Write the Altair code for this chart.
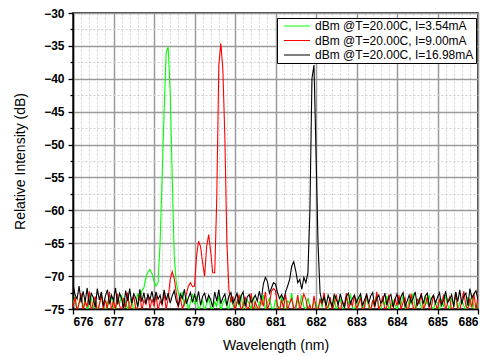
import altair as alt
import pandas as pd

# Sampling grid of the spectra (nm), 0.05 nm step
wavelength = [round(676 + 0.05 * i, 2) for i in range(201)]

series_names = [
    "dBm @T=20.00C, I=3.54mA",
    "dBm @T=20.00C, I=9.00mA",
    "dBm @T=20.00C, I=16.98mA",
]
series_colors = ["#00ff00", "#ff0000", "#000000"]

green_db = [
    -74.2, -73.1, -75.3, -74.0, -72.9, -74.8, -73.6, -75.4, -74.1, -73.3, -74.9, -73.8, -75.2, -74.4, -72.8, -74.6, -75.5, -73.9, -74.3, -73.2,
    -74.7, -75.3, -73.5, -74.2, -72.9, -74.9, -73.7, -75.1, -74.0, -73.4, -75.4, -74.5, -72.6, -73.8, -72.2, -71.8, -70.2, -69.4, -69.0, -69.6,
    -70.8, -71.5, -71.0, -65.0, -55.0, -45.0, -36.0, -35.2, -42.0, -55.0, -67.0, -71.0, -72.5, -73.8, -72.4, -74.6, -73.1, -75.2, -74.0, -72.7,
    -74.3, -73.0, -75.1, -74.5, -73.6, -75.4, -74.2, -73.3, -74.8, -75.2, -73.9, -74.6, -72.9, -75.3, -74.1, -73.5, -74.7, -75.0, -73.2, -74.4,
    -75.1, -73.8, -74.5, -72.8, -74.9, -75.3, -73.6, -74.2, -75.0, -73.1, -74.7, -75.4, -73.9, -74.3, -72.9, -75.2, -74.0, -73.4, -74.8, -75.1,
    -73.7, -74.4, -75.2, -73.0, -74.6, -75.3, -73.8, -74.1, -72.6, -74.9, -75.2, -73.5, -74.3, -72.9, -74.7, -75.0, -73.3, -74.5, -75.4, -73.9,
    -74.2, -75.1, -73.4, -74.8, -72.8, -74.3, -75.2, -73.7, -74.6, -72.9, -75.3, -74.0, -73.5, -74.9, -75.2, -73.2, -74.4, -72.7, -74.8, -75.1,
    -73.6, -74.5, -72.9, -75.0, -74.2, -73.3, -74.7, -75.3, -73.8, -74.1, -72.8, -74.9, -75.2, -73.5, -74.4, -73.0, -75.1, -74.6, -73.7, -74.3,
    -75.2, -73.9, -74.4, -72.8, -74.7, -75.3, -73.6, -74.2, -72.6, -75.0, -74.5, -73.4, -74.8, -75.2, -73.1, -74.3, -72.9, -74.6, -75.1, -73.8,
    -74.1, -75.3, -73.5, -74.7, -72.9, -74.4, -75.0, -73.3, -74.8, -72.7, -75.2, -74.0, -73.6, -74.5, -75.3, -73.2, -74.6, -72.8, -74.9, -75.1,
    -74.0,
]

red_db = [
    -74.8, -73.2, -75.4, -74.1, -72.6, -75.2, -73.9, -74.6, -72.3, -75.3, -74.0, -73.1, -75.5, -74.4, -72.8, -75.1, -73.6, -74.9, -72.4, -75.2,
    -73.8, -75.0, -72.7, -74.5, -75.3, -73.3, -74.8, -72.5, -75.4, -74.2, -73.0, -75.1, -74.6, -72.9, -75.2, -73.7, -74.3, -72.8, -75.0, -73.5,
    -74.6, -72.9, -75.2, -73.8, -74.4, -72.6, -75.1, -73.4, -70.5, -69.3, -70.4, -72.5, -74.8, -73.2, -75.0, -74.1, -72.7, -71.5, -71.0, -71.6,
    -71.5, -67.0, -64.7, -65.5, -68.0, -70.0, -65.5, -63.7, -66.3, -69.5, -69.5, -58.0, -38.0, -34.6, -38.5, -49.0, -65.0, -72.0, -74.0, -73.1,
    -75.2, -74.0, -72.8, -75.3, -74.5, -73.1, -75.0, -74.7, -72.6, -75.4, -73.9, -74.8, -75.2, -73.3, -74.6, -72.4, -75.1, -74.2, -72.3, -71.9,
    -72.2, -74.5, -75.3, -73.6, -74.9, -72.8, -75.2, -74.1, -73.4, -75.0, -74.6, -72.9, -75.3, -74.0, -72.7, -73.5, -75.1, -74.4, -75.5, -73.0,
    -74.8, -75.2, -73.6, -74.3, -72.5, -75.0, -74.6, -73.2, -75.3, -74.1, -72.8, -74.7, -75.2, -73.8, -74.4, -72.6, -75.1, -73.9, -74.5, -72.9,
    -75.0, -74.2, -73.3, -75.2, -74.7, -72.7, -74.1, -75.3, -73.6, -74.8, -72.4, -75.1, -74.3, -73.0, -75.2, -74.6, -72.8, -74.9, -75.3, -73.4,
    -74.5, -72.9, -75.1, -74.0, -73.3, -75.4, -74.6, -72.7, -74.8, -75.2, -73.5, -74.1, -72.6, -75.0, -74.4, -73.1, -75.3, -74.7, -72.9, -74.2,
    -75.1, -73.6, -74.4, -72.8, -75.2, -74.0, -73.2, -75.3, -74.6, -72.5, -74.9, -75.2, -73.7, -72.3, -74.5, -75.0, -73.4, -74.8, -72.6, -75.1,
    -73.0,
]

black_db = [
    -71.2, -72.8, -73.5, -71.5, -74.0, -72.3, -73.9, -71.8, -74.4, -72.6, -73.2, -74.8, -71.9, -73.6, -72.4, -74.5, -73.0, -72.1, -74.2, -72.9,
    -73.7, -71.8, -74.3, -72.6, -73.4, -74.9, -72.2, -73.8, -71.9, -74.1, -72.7, -73.3, -74.6, -72.0, -73.9, -72.5, -74.2, -72.8, -73.6, -72.3,
    -74.0, -72.4, -73.5, -72.9, -74.3, -72.1, -73.7, -72.6, -74.1, -73.0, -72.2, -73.8, -74.5, -72.7, -73.4, -72.0, -74.2, -73.3, -72.5, -74.0,
    -72.8, -73.9, -72.3, -74.4, -73.1, -72.6, -74.0, -72.9, -73.6, -74.7, -72.4, -73.8, -72.1, -74.2, -73.3, -72.7, -74.5, -73.0, -72.5, -74.1,
    -73.4, -72.6, -74.3, -73.0, -72.4, -74.6, -73.2, -72.8, -74.0, -73.5, -72.9, -73.8, -72.3, -73.6, -71.2, -70.2, -70.8, -72.6, -71.8, -71.0,
    -71.2, -72.5, -73.4, -72.8, -73.6, -72.4, -71.5, -70.5, -68.5, -67.8, -69.2, -71.0, -70.5, -72.0, -70.2, -71.0, -69.5, -60.0, -40.0, -37.9,
    -51.0, -65.0, -72.5, -74.0, -73.2, -74.5, -72.9, -73.8, -74.6, -72.8, -73.5, -74.3, -72.7, -73.9, -74.8, -73.1, -72.6, -74.2, -73.4, -72.9,
    -74.0, -73.3, -72.7, -74.5, -73.6, -72.8, -74.2, -73.0, -72.5, -74.6, -73.4, -72.9, -74.1, -73.7, -72.6, -74.4, -73.2, -72.8, -74.7, -73.5,
    -72.7, -74.3, -73.1, -72.5, -74.6, -73.8, -72.9, -74.0, -73.3, -72.4, -74.5, -73.6, -72.8, -74.2, -73.0, -72.6, -74.7, -73.4, -72.9, -74.1,
    -73.2, -72.5, -74.4, -73.7, -72.3, -74.0, -73.5, -72.8, -74.6, -72.4, -73.9, -72.1, -74.3, -73.0, -72.6, -74.5, -71.9, -73.3, -72.7, -72.2,
    -73.6,
]

# Axis tick positions
x_ticks = [round(676 + 0.2 * i, 1) for i in range(51)]
y_ticks = [-75 + 2.5 * i for i in range(19)]

frames = []
for name, vals in zip(series_names, [green_db, red_db, black_db]):
    frames.append(pd.DataFrame({"wl": wavelength, "db": vals, "series": name}))
df = pd.concat(frames, ignore_index=True)

x_major = "abs(datum.value - round(datum.value)) < 0.01"
y_major = "abs(datum.value % 5) < 0.01"

x_enc = alt.X(
    "wl:Q",
    scale=alt.Scale(domain=[676, 686], nice=False, zero=False),
    axis=alt.Axis(
        title="Wavelength (nm)",
        values=x_ticks,
        format=".0f",
        labelExpr=f"({x_major}) ? datum.label : ''",
        tickSize={"condition": {"test": x_major, "value": 5}, "value": 0},
        gridColor={"condition": {"test": x_major, "value": "#9a9a9a"}, "value": "#cfcfcf"},
        gridDash={"condition": {"test": x_major, "value": []}, "value": [2, 2]},
        gridWidth={"condition": {"test": x_major, "value": 1.5}, "value": 1},
        labelPadding=2,
        titlePadding=11,
    ),
)
y_enc = alt.Y(
    "db:Q",
    scale=alt.Scale(domain=[-75, -30], nice=False, zero=False),
    axis=alt.Axis(
        title="Relative Intensity (dB)",
        values=y_ticks,
        format=".0f",
        labelExpr=f"({y_major}) ? datum.label : ''",
        tickSize={"condition": {"test": y_major, "value": 5}, "value": 3},
        gridColor={"condition": {"test": y_major, "value": "#9a9a9a"}, "value": "#cfcfcf"},
        gridDash={"condition": {"test": y_major, "value": []}, "value": [2, 2]},
        gridWidth={"condition": {"test": y_major, "value": 1.5}, "value": 1},
        labelPadding=4,
        titlePadding=16,
    ),
)
color_enc = alt.Color(
    "series:N",
    scale=alt.Scale(domain=series_names, range=series_colors),
    legend=alt.Legend(
        title=None,
        orient="none",
        legendX=204,
        legendY=5,
        symbolType="stroke",
        symbolSize=676,
        symbolStrokeWidth=1.2,
        clipHeight=12,
        labelFontSize=12,
        labelFont="Liberation Sans",
        labelOffset=4,
        symbolOffset=4,
        padding=2,
        rowPadding=2.5,
        fillColor="white",
        strokeColor="black",
    ),
)

layers = []
for name in series_names:
    layers.append(
        alt.Chart(df)
        .transform_filter(alt.datum.series == name)
        .mark_line(strokeWidth=1.1, clip=True)
        .encode(x=x_enc, y=y_enc, color=color_enc)
    )

chart = (
    alt.layer(*layers)
    .properties(
        width=405,
        height=296,
        autosize=alt.AutoSizeParams(type="none"),
        padding={"left": 73, "top": 13, "right": 9, "bottom": 47},
    )
    .configure_view(stroke="black", strokeWidth=1.5)
    .configure_axis(
        domainColor="black",
        domainWidth=1.5,
        tickColor="black",
        tickWidth=1.3,
        labelFont="Liberation Sans",
        labelFontSize=12,
        labelFontWeight="bold",
        labelColor="black",
        titleFont="Liberation Sans",
        titleFontSize=14,
        titleFontWeight="normal",
        titleColor="black",
    )
)

chart.save("out.html", embed_options={"renderer": "svg", "actions": False})
